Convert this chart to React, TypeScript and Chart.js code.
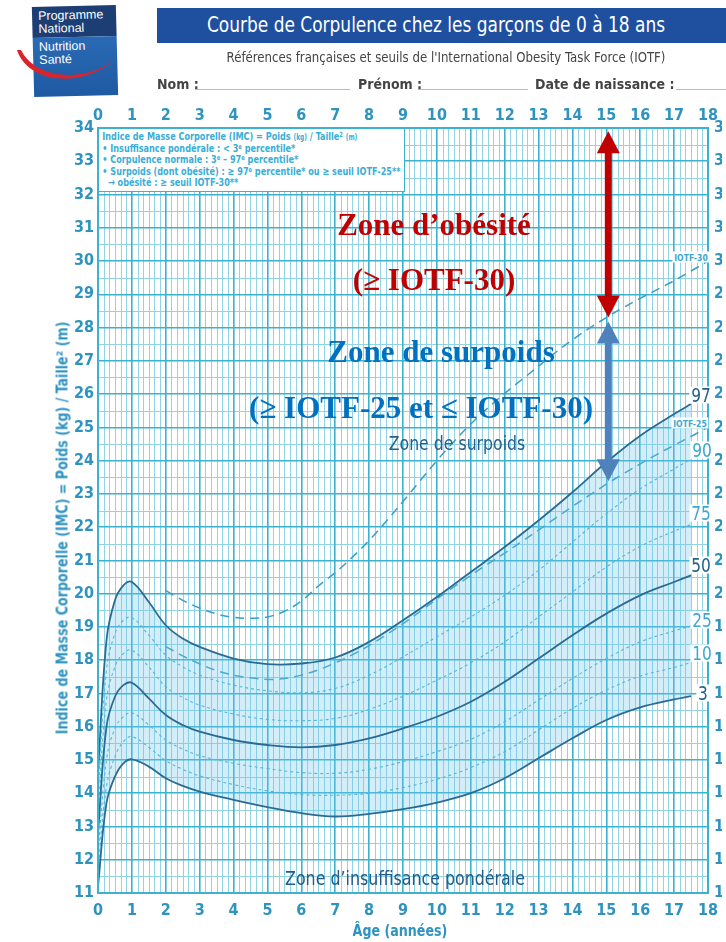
import React, { useEffect, useRef } from 'react';
import { Chart, registerables } from 'chart.js';

Chart.register(...registerables);

// ---------- DATA ----------
const AGES = [0, 0.25, 0.5, 0.75, 1, 1.5, 2, 2.5, 3, 4, 5, 6, 7, 8, 9, 10, 11, 12, 13, 14, 15, 16, 17, 17.5];
const P97 = [14.6, 18.6, 19.8, 20.25, 20.35, 19.75, 19.05, 18.65, 18.4, 18.05, 17.88, 17.9, 18.08, 18.55, 19.2, 19.9, 20.65, 21.4, 22.2, 23.05, 23.95, 24.75, 25.4, 25.7];
const P90 = [14.0, 17.7, 18.8, 19.2, 19.28, 18.75, 18.15, 17.8, 17.55, 17.25, 17.08, 17.02, 17.15, 17.55, 18.1, 18.7, 19.3, 19.95, 20.7, 21.55, 22.4, 23.15, 23.75, 24.05];
const P75 = [13.4, 16.8, 17.8, 18.2, 18.3, 17.8, 17.2, 16.88, 16.65, 16.38, 16.22, 16.18, 16.25, 16.52, 16.92, 17.4, 17.92, 18.55, 19.3, 20.05, 20.8, 21.42, 21.88, 22.08];
const P50 = [12.8, 16.0, 16.9, 17.25, 17.32, 16.85, 16.35, 16.05, 15.85, 15.6, 15.45, 15.38, 15.45, 15.65, 15.95, 16.3, 16.75, 17.35, 18.05, 18.75, 19.4, 19.95, 20.35, 20.55];
const P25 = [12.2, 15.0, 15.95, 16.3, 16.42, 16.05, 15.6, 15.33, 15.13, 14.9, 14.74, 14.62, 14.6, 14.72, 14.95, 15.25, 15.62, 16.15, 16.8, 17.45, 18.05, 18.55, 18.88, 19.03];
const P10 = [11.7, 14.2, 15.1, 15.55, 15.7, 15.38, 14.98, 14.72, 14.52, 14.26, 14.07, 13.96, 13.94, 14.0, 14.17, 14.42, 14.77, 15.25, 15.9, 16.55, 17.1, 17.52, 17.78, 17.93];
const P3 = [11.2, 13.7, 14.5, 14.9, 15.02, 14.8, 14.45, 14.22, 14.05, 13.8, 13.58, 13.4, 13.3, 13.38, 13.52, 13.72, 14.0, 14.45, 15.05, 15.65, 16.2, 16.58, 16.82, 16.92];

const IOTF_AGES = [2, 2.5, 3, 3.5, 4, 4.5, 5, 5.5, 6, 6.5, 7, 7.5, 8, 8.5, 9, 9.5, 10, 10.5, 11, 11.5, 12, 12.5, 13, 13.5, 14, 14.5, 15, 15.5, 16, 16.5, 17, 17.5, 18];
const IOTF25 = [18.41, 18.13, 17.89, 17.69, 17.55, 17.47, 17.42, 17.45, 17.55, 17.71, 17.92, 18.16, 18.44, 18.76, 19.1, 19.46, 19.84, 20.2, 20.55, 20.89, 21.22, 21.56, 21.91, 22.27, 22.62, 22.96, 23.29, 23.6, 23.9, 24.19, 24.46, 24.73, 25.0];
const IOTF30 = [20.09, 19.8, 19.57, 19.39, 19.29, 19.26, 19.3, 19.47, 19.78, 20.23, 20.63, 21.09, 21.6, 22.17, 22.77, 23.39, 24.0, 24.57, 25.1, 25.58, 26.02, 26.43, 26.84, 27.25, 27.63, 27.98, 28.3, 28.6, 28.88, 29.14, 29.41, 29.7, 30.0];

const X_TICKS = [0, 1, 2, 3, 4, 5, 6, 7, 8, 9, 10, 11, 12, 13, 14, 15, 16, 17, 18];
const Y_TICKS = [11, 12, 13, 14, 15, 16, 17, 18, 19, 20, 21, 22, 23, 24, 25, 26, 27, 28, 29, 30, 31, 32, 33, 34];

const ARROW_AGE = 15;

// ---------- STYLE ----------
const NARROW = "'Liberation Sans Narrow', 'DejaVu Sans Condensed', 'Liberation Sans', sans-serif";
const SERIF = "'Liberation Serif', 'DejaVu Serif', serif";
const MAJOR = '#3cb2cf';
const MINOR = '#92d3e4';
const TICK_C = '#2f93c0';
const SOLID = '#2a6b95';
const THIN = '#54b7d6';
const IOTF_C = '#3a9dc5';
const FILL = 'rgba(110, 200, 232, 0.3)';

const mk = (xs: number[], ys: number[]) => xs.map((x, i) => ({ x, y: ys[i] }));

const minorGrid = {
  id: 'minorGrid',
  beforeDraw(chart: any) {
    const { ctx, chartArea: a, scales } = chart;
    const x = scales.x, y = scales.y;
    ctx.save();
    ctx.strokeStyle = MINOR;
    ctx.lineWidth = 1;
    for (let i = 0; i <= 18 * 6; i++) {
      if (i % 6 === 0) continue;
      const px = Math.round(x.getPixelForValue(i / 6)) + 0.5;
      ctx.beginPath(); ctx.moveTo(px, a.top); ctx.lineTo(px, a.bottom); ctx.stroke();
    }
    for (let i = 11 * 2; i <= 34 * 2; i++) {
      if (i % 2 === 0) continue;
      const py = Math.round(y.getPixelForValue(i / 2)) + 0.5;
      ctx.beginPath(); ctx.moveTo(a.left, py); ctx.lineTo(a.right, py); ctx.stroke();
    }
    ctx.restore();
  },
};

function dblArrow(ctx: CanvasRenderingContext2D, x: number, y1: number, y2: number, color: string) {
  const hw = 11.5, hh = 22, sw = 3.5;
  ctx.save();
  ctx.fillStyle = color;
  ctx.fillRect(x - sw, y1 + hh - 1, sw * 2, y2 - y1 - 2 * hh + 2);
  ctx.beginPath(); ctx.moveTo(x, y1); ctx.lineTo(x + hw, y1 + hh); ctx.lineTo(x - hw, y1 + hh); ctx.closePath(); ctx.fill();
  ctx.beginPath(); ctx.moveTo(x, y2); ctx.lineTo(x + hw, y2 - hh); ctx.lineTo(x - hw, y2 - hh); ctx.closePath(); ctx.fill();
  ctx.restore();
}

const overlay = {
  id: 'overlay',
  afterDraw(chart: any) {
    const { ctx, chartArea: a, scales } = chart;
    const x = scales.x, y = scales.y;
    ctx.save();
    ctx.strokeStyle = MAJOR;
    ctx.lineWidth = 2;
    ctx.strokeRect(a.left, a.top, a.right - a.left, a.bottom - a.top);
    ctx.restore();
    const k = IOTF_AGES.indexOf(ARROW_AGE);
    const ax = x.getPixelForValue(ARROW_AGE) + 2;
    const yTop = y.getPixelForValue(33.9);
    const y30 = y.getPixelForValue(IOTF30[k]);
    const y25 = y.getPixelForValue(IOTF25[k]);
    dblArrow(ctx, ax, yTop, y30, '#c00000');
    dblArrow(ctx, ax, y30 + 4, y25 - 3, '#4f81bd');
  },
};

const tickFont = { family: NARROW, size: 16, weight: 'bold' as const };

function buildConfig(): any {
  const base = { pointRadius: 0, fill: false, tension: 0.4, cubicInterpolationMode: 'default' };
  const solid = { ...base, borderColor: SOLID, borderWidth: 1.8 };
  const thin = { ...base, borderColor: THIN, borderWidth: 1.1, borderDash: [3, 3] };
  const iotf = { ...base, borderColor: IOTF_C, borderWidth: 1.5, borderDash: [9, 6] };
  const setTicks = (vals: number[]) => (s: any) => { s.ticks = vals.map((v) => ({ value: v })); };
  return {
    type: 'line',
    data: {
      datasets: [
        { label: 'P3', data: mk(AGES, P3), ...solid },
        { label: 'P10', data: mk(AGES, P10), ...thin },
        { label: 'P25', data: mk(AGES, P25), ...thin },
        { label: 'P50', data: mk(AGES, P50), ...solid },
        { label: 'P75', data: mk(AGES, P75), ...thin },
        { label: 'P90', data: mk(AGES, P90), ...thin },
        { label: 'P97', data: mk(AGES, P97), ...solid, fill: { target: 0 }, backgroundColor: FILL },
        { label: 'IOTF-25', data: mk(IOTF_AGES, IOTF25), ...iotf },
        { label: 'IOTF-30', data: mk(IOTF_AGES, IOTF30), ...iotf },
      ],
    },
    options: {
      responsive: false,
      animation: false,
      devicePixelRatio: 1,
      layout: { padding: 0 },
      plugins: { legend: { display: false }, tooltip: { enabled: false } },
      scales: {
        x: {
          type: 'linear', position: 'bottom', min: 0, max: 18,
          afterBuildTicks: setTicks(X_TICKS),
          ticks: { color: TICK_C, font: tickFont, padding: 8, maxRotation: 0, autoSkip: false },
          grid: { color: MAJOR, lineWidth: 1.6, drawTicks: false },
          border: { display: false },
          afterFit: (s: any) => { s.height = 49; },
        },
        xTop: {
          type: 'linear', position: 'top', min: 0, max: 18,
          afterBuildTicks: setTicks(X_TICKS),
          ticks: { color: TICK_C, font: tickFont, padding: 3, maxRotation: 0, autoSkip: false },
          grid: { display: false, drawTicks: false },
          border: { display: false },
          afterFit: (s: any) => { s.height = 128; },
        },
        y: {
          type: 'linear', position: 'left', min: 11, max: 34,
          afterBuildTicks: setTicks(Y_TICKS),
          ticks: { color: TICK_C, font: tickFont, padding: 4, autoSkip: false },
          grid: { color: MAJOR, lineWidth: 1.6, drawTicks: false },
          border: { display: false },
          afterFit: (s: any) => { s.width = 98; },
        },
        yRight: {
          type: 'linear', position: 'right', min: 11, max: 34,
          afterBuildTicks: setTicks(Y_TICKS),
          ticks: { color: TICK_C, font: tickFont, padding: 6, autoSkip: false },
          grid: { display: false, drawTicks: false },
          border: { display: false },
          afterFit: (s: any) => { s.width = 14; },
        },
      },
    },
    plugins: [minorGrid, overlay],
  };
}

const abs = (l: number, t: number): React.CSSProperties => ({ position: 'absolute', left: l, top: t });
const centered = (cx: number, cy: number, sx = 1): React.CSSProperties => ({
  position: 'absolute', left: cx, top: cy, transform: `translate(-50%, -50%) scaleX(${sx})`, whiteSpace: 'nowrap',
});

const CURVE_LABELS = [
  { t: '97', x: 701, y: 395, dark: true },
  { t: '90', x: 702, y: 450, dark: false },
  { t: '75', x: 701, y: 513, dark: false },
  { t: '50', x: 701, y: 565, dark: true },
  { t: '25', x: 702, y: 620, dark: false },
  { t: '10', x: 702, y: 653, dark: false },
  { t: '3', x: 703, y: 693, dark: true },
];

const LEGEND_LINE: React.CSSProperties = { height: 11.6, lineHeight: '11.6px', overflow: 'visible' };

export default function App() {
  const ref = useRef<HTMLCanvasElement>(null);
  useEffect(() => {
    const chart = new Chart(ref.current as HTMLCanvasElement, buildConfig());
    return () => chart.destroy();
  }, []);

  const sup = (s: string) => (
    <span style={{ fontSize: 7, lineHeight: '7px', position: 'relative', top: -3 }}>{s}</span>
  );

  return (
    <div style={{ position: 'absolute', left: 0, top: 0, width: 726, height: 942, background: '#fff', overflow: 'hidden', fontFamily: NARROW }}>
      <canvas ref={ref} width={726} height={942} style={{ position: 'absolute', left: 0, top: 0, width: 726, height: 942 }} />

      {/* Logo */}
      <div style={{ ...abs(33, 6), width: 84, height: 90, transform: 'rotate(-1.5deg)', fontFamily: "'Liberation Sans', Arial, sans-serif", color: '#fff' }}>
        <div style={{ background: '#1d3e74', height: 31, padding: '3px 0 0 6px', fontSize: 12.5, lineHeight: '13px', boxSizing: 'border-box' }}>Programme<br />National</div>
        <div style={{ background: 'linear-gradient(#2a6ab4, #1f5aa3)', height: 59, padding: '3px 0 0 6px', fontSize: 12.5, lineHeight: '13px', boxSizing: 'border-box' }}>Nutrition<br />Santé</div>
      </div>
      <svg width={130} height={100} style={abs(0, 0)}>
        <path d="M17 50 C 28 84, 82 88, 113 61 C 84 82, 36 80, 21 50 Z" fill="#d9242c" />
      </svg>

      {/* Title bar */}
      <div style={{ ...abs(157, 8), width: 569, height: 35, background: '#1f4f9f' }} />
      <div style={{ ...centered(436, 25, 0.9), color: '#fff', fontSize: 21 }}>Courbe de Corpulence chez les garçons de 0 à 18 ans</div>
      <div style={{ ...centered(446, 57, 0.97), color: '#444', fontSize: 13.5 }}>Références françaises et seuils de l'International Obesity Task Force (IOTF)</div>

      {/* Fields */}
      <div style={{ ...abs(157, 76), color: '#444', fontSize: 14, fontWeight: 'bold' }}>Nom :</div>
      <div style={{ ...abs(195, 89), width: 155, height: 1, background: '#bbb' }} />
      <div style={{ ...abs(358, 76), color: '#444', fontSize: 14, fontWeight: 'bold' }}>Prénom :</div>
      <div style={{ ...abs(418, 89), width: 110, height: 1, background: '#bbb' }} />
      <div style={{ ...abs(535, 76), color: '#444', fontSize: 14, fontWeight: 'bold' }}>Date de naissance :</div>
      <div style={{ ...abs(676, 89), width: 50, height: 1, background: '#bbb' }} />

      {/* Axis titles */}
      <div style={{ ...centered(62, 528), transform: 'translate(-50%, -50%) rotate(-90deg) scaleX(0.88)', color: TICK_C, fontSize: 16, fontWeight: 'bold' }}>
        Indice de Masse Corporelle (IMC) = Poids (kg) / Taille² (m)
      </div>
      <div style={{ ...centered(400, 930, 0.88), color: TICK_C, fontSize: 16, fontWeight: 'bold' }}>Âge (années)</div>

      {/* Legend box */}
      <div style={{ ...abs(98, 128), width: 307, height: 64, background: '#fff', border: `1.5px solid ${MAJOR}`, boxSizing: 'border-box', overflow: 'hidden' }}>
        <div style={{ padding: '2px 4px 0 4px', color: '#3aaed6', fontSize: 11, fontWeight: 'bold', whiteSpace: 'nowrap', transform: 'scaleX(0.82)', transformOrigin: 'left top' }}>
          <div style={LEGEND_LINE}>Indice de Masse Corporelle (IMC) = Poids <span style={{ fontSize: 8 }}>(kg)</span> / Taille{sup('2')} <span style={{ fontSize: 8 }}>(m)</span></div>
          <div style={LEGEND_LINE}>• Insuffisance pondérale : &lt; 3{sup('e')} percentile*</div>
          <div style={LEGEND_LINE}>• Corpulence normale : 3{sup('e')} – 97{sup('e')} percentile*</div>
          <div style={LEGEND_LINE}>• Surpoids (dont obésité) : ≥ 97{sup('e')} percentile* ou ≥ seuil IOTF-25**</div>
          <div style={LEGEND_LINE}>&nbsp;&nbsp;→ obésité : ≥ seuil IOTF-30**</div>
        </div>
      </div>

      {/* Curve labels */}
      {CURVE_LABELS.map((l) => (
        <div key={l.t} style={{ ...centered(l.x, l.y, 0.9), background: '#fff', padding: '0 2px', fontSize: 19, lineHeight: '17px', color: l.dark ? '#1f5f88' : '#3aa8cf' }}>{l.t}</div>
      ))}
      <div style={{ ...centered(691, 257, 0.9), background: '#fff', padding: '0 2px', fontSize: 9.5, fontWeight: 'bold', lineHeight: '11px', color: '#3aa8cf' }}>IOTF-30</div>
      <div style={{ ...centered(690, 423, 0.9), background: '#fff', padding: '0 2px', fontSize: 9.5, fontWeight: 'bold', lineHeight: '11px', color: '#3aa8cf' }}>IOTF-25</div>

      {/* Zone annotations */}
      <div style={{ ...centered(434, 225), fontFamily: SERIF, fontWeight: 'bold', fontSize: 31, color: '#c00000' }}>Zone d’obésité</div>
      <div style={{ ...centered(434, 280), fontFamily: SERIF, fontWeight: 'bold', fontSize: 31, color: '#c00000' }}>(≥ IOTF-30)</div>
      <div style={{ ...centered(441, 352), fontFamily: SERIF, fontWeight: 'bold', fontSize: 31, color: '#0070c0' }}>Zone de surpoids</div>
      <div style={{ ...centered(421, 408), fontFamily: SERIF, fontWeight: 'bold', fontSize: 31, color: '#0070c0' }}>(≥ IOTF-25 et ≤ IOTF-30)</div>
      <div style={{ ...centered(457, 443, 0.92), fontSize: 19, color: '#285f8c' }}>Zone de surpoids</div>
      <div style={{ ...centered(405, 878, 0.88), fontSize: 20, color: '#235a88' }}>Zone d’insuffisance pondérale</div>
    </div>
  );
}
